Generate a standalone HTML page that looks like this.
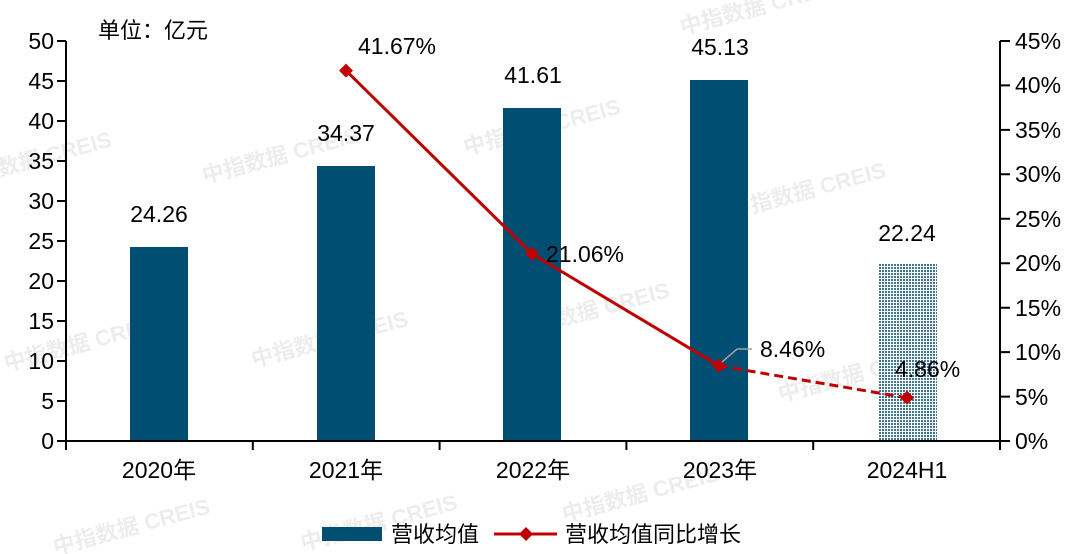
<!DOCTYPE html>
<html><head><meta charset="utf-8"><style>
html,body{margin:0;background:#fff;width:1080px;height:554px;overflow:hidden;}
svg{display:block;font-family:"Liberation Sans","Noto Sans CJK SC",sans-serif;}
</style></head><body>
<svg width="1080" height="554" viewBox="0 0 1080 554">
<defs>
<pattern id="h" width="3" height="3" patternUnits="userSpaceOnUse">
<rect width="3" height="3" fill="#ffffff"/>
<rect width="2" height="2" fill="#3f7892"/>
</pattern>
</defs>
<g fill="#e2e2e2" font-size="22" font-weight="bold" opacity="0.6" transform="rotate(-15 540 277)">
<text x="0" y="40">中指数据 CREIS</text><text x="240" y="100">中指数据 CREIS</text><text x="500" y="140">中指数据 CREIS</text><text x="740" y="80">中指数据 CREIS</text>
<text x="0" y="230">中指数据 CREIS</text><text x="240" y="290">中指数据 CREIS</text><text x="500" y="330">中指数据 CREIS</text><text x="740" y="270">中指数据 CREIS</text>
<text x="0" y="420">中指数据 CREIS</text><text x="240" y="480">中指数据 CREIS</text><text x="500" y="520">中指数据 CREIS</text><text x="740" y="460">中指数据 CREIS</text>
</g>
<g fill="#004e72">
<rect x="130" y="247" width="58" height="194"/>
<rect x="317" y="166" width="58" height="275"/>
<rect x="503" y="108" width="58" height="333"/>
<rect x="690" y="80" width="58" height="361"/>
</g>
<rect x="878" y="263" width="59" height="178" fill="url(#h)"/>
<g stroke="#000" stroke-width="2" fill="none">
<line x1="66" y1="41" x2="66" y2="442"/>
<line x1="1000" y1="41" x2="1000" y2="450"/>
<line x1="66" y1="441" x2="1000" y2="441"/>
<path d="M57 41H66M57 81H66M57 121H66M57 161H66M57 201H66M57 241H66M57 281H66M57 321H66M57 361H66M57 401H66M57 441H66"/>
<path d="M1000 41H1010M1000 85.4H1010M1000 129.9H1010M1000 174.3H1010M1000 218.8H1010M1000 263.2H1010M1000 307.7H1010M1000 352.1H1010M1000 396.6H1010M1000 441H1010"/>
<path d="M66 441V450M252.8 441V450M439.6 441V450M626.4 441V450M813.2 441V450"/>
</g>
<g font-size="23" fill="#000" text-anchor="end">
<text x="54" y="49">50</text><text x="54" y="89">45</text><text x="54" y="129">40</text><text x="54" y="169">35</text><text x="54" y="209">30</text><text x="54" y="249">25</text><text x="54" y="289">20</text><text x="54" y="329">15</text><text x="54" y="369">10</text><text x="54" y="409">5</text><text x="54" y="449">0</text>
</g>
<g font-size="23" fill="#000">
<text x="1015" y="49">45%</text><text x="1015" y="93">40%</text><text x="1015" y="138">35%</text><text x="1015" y="182">30%</text><text x="1015" y="227">25%</text><text x="1015" y="271">20%</text><text x="1015" y="316">15%</text><text x="1015" y="360">10%</text><text x="1015" y="405">5%</text><text x="1015" y="449">0%</text>
</g>
<text x="98" y="38" font-size="22">单位：亿元</text>
<g font-size="23" text-anchor="middle">
<text x="159" y="478">2020年</text><text x="346" y="478">2021年</text><text x="533" y="478">2022年</text><text x="720" y="478">2023年</text><text x="907" y="478">2024H1</text>
<text x="159" y="222">24.26</text><text x="346" y="141">34.37</text><text x="533" y="83">41.61</text><text x="720" y="55">45.13</text><text x="907" y="241">22.24</text>
</g>
<polyline points="346,70.6 532,253.8 719,365.8" fill="none" stroke="#c00000" stroke-width="3"/>
<line x1="719" y1="365.8" x2="907" y2="397.8" stroke="#c00000" stroke-width="3" stroke-dasharray="9,5"/>
<g fill="#c00000">
<path d="M346 63.6l7 7-7 7-7-7z"/><path d="M532 246.8l7 7-7 7-7-7z"/><path d="M719 358.8l7 7-7 7-7-7z"/><path d="M907 390.8l7 7-7 7-7-7z"/>
</g>
<polyline points="722,362 737,349 752,349" fill="none" stroke="#a0a0a0" stroke-width="1.5"/>
<g font-size="23">
<text x="358" y="54">41.67%</text><text x="546" y="262">21.06%</text><text x="760" y="357">8.46%</text><text x="895" y="377">4.86%</text>
</g>
<rect x="322" y="527" width="60" height="14" fill="#004e72"/>
<text x="391" y="542" font-size="22">营收均值</text>
<line x1="494" y1="534" x2="557" y2="534" stroke="#c00000" stroke-width="3"/>
<path d="M526 527l7 7-7 7-7-7z" fill="#c00000"/>
<text x="565" y="542" font-size="22">营收均值同比增长</text>
</svg>
</body></html>
